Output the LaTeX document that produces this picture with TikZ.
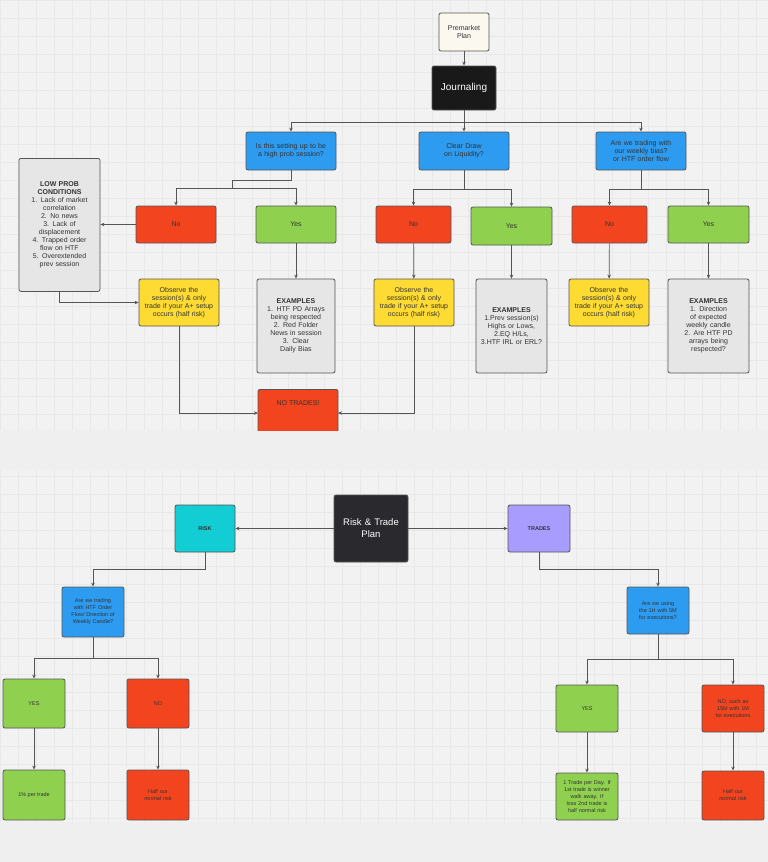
\documentclass[tikz,border=0pt]{standalone}
\usepackage{fontspec}
\setmainfont{Liberation Sans}
\usetikzlibrary{arrows.meta}
\definecolor{bg}{HTML}{F2F2F2}
\definecolor{band}{HTML}{EFEFEF}
\definecolor{gridc}{HTML}{E8E8E8}
\definecolor{cred}{HTML}{F2451F}
\definecolor{cgreen}{HTML}{8FD14F}
\definecolor{cyel}{HTML}{FEDB32}
\definecolor{cblue}{HTML}{2D9BF0}
\definecolor{cgray}{HTML}{E6E6E6}
\definecolor{ccyan}{HTML}{12CDD4}
\definecolor{cpurp}{HTML}{A99CFF}
\definecolor{cdark}{HTML}{2A2A2E}
\definecolor{ccream}{HTML}{FBF8F0}
\definecolor{txt}{HTML}{333333}
\definecolor{lnc}{HTML}{555555}
\hyphenpenalty=10000
\exhyphenpenalty=10000
\begin{document}
\begin{tikzpicture}[x=1pt,y=-1pt,
 box/.style={draw=lnc,line width=0.8pt,rounded corners=2pt,align=center,inner sep=1pt,font=\fontsize{7}{8}\selectfont,text=txt},
 sm/.style={font=\fontsize{5.5}{7}\selectfont},
 conn/.style={draw=lnc,line width=0.7pt,-{Stealth[length=4pt,width=3.5pt]}},
 plain/.style={draw=lnc,line width=0.7pt}]
\useasboundingbox (0,0) rectangle (768,862);
\fill[bg] (0,0) rectangle (768,862);
\fill[band] (0,430) rectangle (768,470);
\fill[band] (0,822) rectangle (768,862);
\foreach \i in {0,...,43} {\draw[gridc,line width=0.3pt] (\i*18,0) -- (\i*18,430); \draw[gridc,line width=0.3pt] (\i*18,470) -- (\i*18,822);}
\foreach \j in {0,...,23} {\draw[gridc,line width=0.3pt] (0,\j*18) -- (768,\j*18);}
\foreach \j in {0,...,19} {\draw[gridc,line width=0.3pt] (0,476+\j*18) -- (768,476+\j*18);}

% top
\node[box,fill=ccream,minimum width=50pt,minimum height=38pt,text width=44pt] (pm) at (464,32) {Premarket\\Plan};
\node[box,fill=black!90,minimum width=64pt,minimum height=44pt,text=white,font=\fontsize{10}{12}\selectfont] (jr) at (464,88) {Journaling};
\node[box,fill=cblue,minimum width=90pt,minimum height=38pt,text width=80pt] (q1) at (291,151) {Is this setting up to be a high prob session?};
\node[box,fill=cblue,minimum width=90pt,minimum height=38pt,text width=60pt] (q2) at (464,151) {Clear Draw on Liquidity?};
\node[box,fill=cblue,minimum width=90pt,minimum height=38pt,text width=76pt] (q3) at (641,151) {Are we trading with our weekly bias? or HTF order flow};

\node[box,fill=cgray,minimum width=81pt,minimum height=133pt,text width=62pt,anchor=north] (lp) at (59.5,158) {\textbf{LOW PROB}\\\textbf{CONDITIONS}\\1. Lack of market correlation\\2. No news\\3. Lack of displacement\\4. Trapped order flow on HTF\\5. Overextended prev session\\[28pt]};
\node[box,fill=cred,minimum width=80pt,minimum height=37pt] (n1) at (176,224.5) {No};
\node[box,fill=cgreen,minimum width=80pt,minimum height=37pt] (y1) at (296,224.5) {Yes};
\node[box,fill=cred,minimum width=75pt,minimum height=37pt] (n2) at (413.5,224.5) {No};
\node[box,fill=cgreen,minimum width=81pt,minimum height=38pt] (y2) at (511.5,226) {Yes};
\node[box,fill=cred,minimum width=75pt,minimum height=37pt] (n3) at (609.5,224.5) {No};
\node[box,fill=cgreen,minimum width=81pt,minimum height=37pt] (y3) at (708.5,224.5) {Yes};

\node[box,fill=cyel,minimum width=80pt,minimum height=47pt,text width=70pt] (o1) at (179,302.5) {Observe the session(s) \& only trade if your A+ setup occurs (half risk)};
\node[box,fill=cyel,minimum width=80pt,minimum height=47pt,text width=70pt] (o2) at (414,302.5) {Observe the session(s) \& only trade if your A+ setup occurs (half risk)};
\node[box,fill=cyel,minimum width=80pt,minimum height=47pt,text width=70pt] (o3) at (609,302.5) {Observe the session(s) \& only trade if your A+ setup occurs (half risk)};
\node[box,fill=cgray,minimum width=78pt,minimum height=94pt,text width=58pt] (e1) at (296,326) {\textbf{EXAMPLES}\\1. HTF PD Arrays being respected\\2. Red Folder News in session\\3. Clear Daily Bias};
\node[box,fill=cgray,minimum width=71pt,minimum height=94pt,text width=62pt] (e2) at (511.5,326) {\textbf{EXAMPLES}\\1.Prev session(s) Highs or Lows,\\2.EQ H/Ls,\\3.HTF IRL or ERL?\\[6pt]};
\node[box,fill=cgray,minimum width=81pt,minimum height=94pt,text width=56pt] (e3) at (708.5,326) {\textbf{EXAMPLES}\\1. Direction of expected weekly candle\\2. Are HTF PD arrays being respected?\\[6pt]};
\begin{scope}
\clip (0,0) rectangle (768,430);
\node[box,fill=cred,minimum width=80pt,minimum height=46pt,anchor=north] (nt) at (298,389) {NO TRADES!\\[10pt]};
\end{scope}

\draw[conn] (pm) -- (jr);
\draw[plain] (jr.south) -- (464,122);
\draw[conn] (291,122) -| (q1.north);
\draw[conn] (464,122) -- (q2.north);
\draw[conn] (291,122) -- (641,122) -- (q3.north);
\draw[plain] (q1.south) -- (291,180) -- (232,180) -- (232,188);
\draw[conn] (232,188) -| (n1.north);
\draw[conn] (232,188) -| (y1.north);
\draw[plain] (q2.south) -- (464,189);
\draw[conn] (464,189) -| (n2.north);
\draw[conn] (464,189) -| (y2.north);
\draw[plain] (q3.south) -- (641,189);
\draw[conn] (641,189) -| (n3.north);
\draw[conn] (641,189) -| (y3.north);
\draw[conn] (n1.west) -- (lp.east |- n1.west);
\draw[conn] (lp.south) |- (o1.west);
\draw[conn] (y1) -- (e1);
\draw[conn] (n2) -- (o2);
\draw[conn] (y2) -- (e2);
\draw[conn] (n3) -- (o3);
\draw[conn] (y3) -- (e3);
\draw[conn] (o1.south) |- (258,413);
\draw[conn] (o2.south) |- (338,413);

% bottom
\node[box,fill=cdark,minimum width=74pt,minimum height=67pt,text width=70pt,text=white,font=\fontsize{9.5}{12}\selectfont] (rt) at (371,528.5) {Risk \& Trade\\Plan};
\node[box,fill=ccyan,minimum width=60pt,minimum height=47pt,font=\bfseries\fontsize{5.5}{6.5}\selectfont] (rk) at (205,528.5) {RISK};
\node[box,fill=cpurp,minimum width=62pt,minimum height=47pt,font=\bfseries\fontsize{5.5}{6.5}\selectfont] (tr) at (539,528.5) {TRADES};
\node[box,sm,fill=cblue,minimum width=62pt,minimum height=50pt,text width=50pt] (q4) at (93,612) {Are we trading with HTF Order Flow/ Direction of Weekly Candle?};
\node[box,sm,fill=cgreen,minimum width=62pt,minimum height=49pt] (y4) at (34,703.5) {YES};
\node[box,sm,fill=cred,minimum width=62pt,minimum height=49pt] (n4) at (158,703.5) {NO};
\node[box,sm,fill=cgreen,minimum width=62pt,minimum height=50pt] (r1) at (34,795) {1\% per trade};
\node[box,sm,fill=cred,minimum width=62pt,minimum height=50pt,text width=46pt] (r2) at (158,795) {Half our normal risk};
\node[box,sm,fill=cblue,minimum width=62pt,minimum height=47pt,text width=48pt] (q5) at (658,610.5) {Are we using the 1H with 5M for executions?};
\node[box,sm,fill=cgreen,minimum width=62pt,minimum height=47pt] (y5) at (587,708.5) {YES};
\node[box,sm,fill=cred,minimum width=62pt,minimum height=47pt,text width=50pt] (n5) at (733,708.5) {NO, such as 15M with 1M for executions};
\node[box,sm,fill=cgreen,minimum width=62pt,minimum height=47pt,text width=56pt] (t1) at (587,796.5) {1 Trade per Day. If 1st trade is winner walk away. If loss 2nd trade is half normal risk};
\node[box,sm,fill=cred,minimum width=62pt,minimum height=49pt,text width=46pt] (t2) at (733,795.5) {Half our normal risk};

\draw[conn] (rt) -- (rk);
\draw[conn] (rt) -- (tr);
\draw[conn] (rk.south) |- (93,569) -- (q4.north);
\draw[plain] (q4.south) -- (93,658);
\draw[conn] (93,658) -| (y4.north);
\draw[conn] (93,658) -| (n4.north);
\draw[conn] (y4) -- (r1);
\draw[conn] (n4) -- (r2);
\draw[conn] (tr.south) |- (658,569) -- (q5.north);
\draw[plain] (q5.south) -- (658,659);
\draw[conn] (658,659) -| (y5.north);
\draw[conn] (658,659) -| (n5.north);
\draw[conn] (y5) -- (t1);
\draw[conn] (n5) -- (t2);
\end{tikzpicture}
\end{document}
